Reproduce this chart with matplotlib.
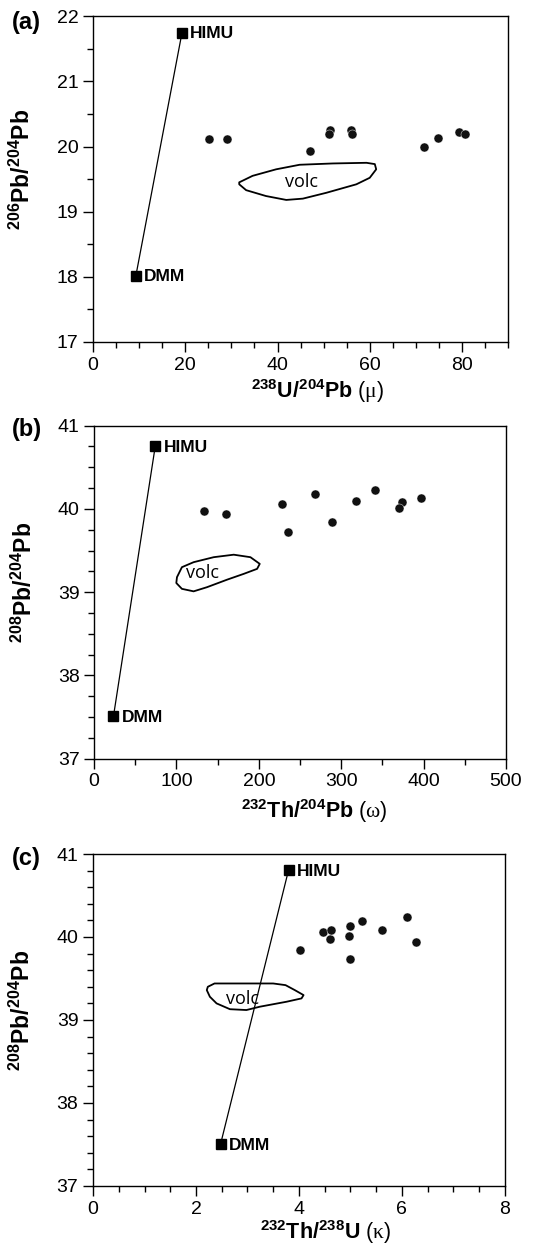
import matplotlib
matplotlib.use("Agg")
import matplotlib.pyplot as plt
from matplotlib.patches import Polygon
from matplotlib.ticker import MultipleLocator
from matplotlib import rcParams

rcParams['font.family'] = 'Liberation Sans'
rcParams['mathtext.fontset'] = 'custom'
rcParams['mathtext.rm'] = 'Liberation Sans'
rcParams['mathtext.bf'] = 'Liberation Sans:bold'
rcParams['mathtext.it'] = 'Liberation Serif'
rcParams['axes.linewidth'] = 1.0

# end-members (DMM, HIMU)
mu_end = [9.3, 19.3]
pb206_end = [18.02, 21.75]
omega_end = [23.5, 74.2]
pb208_end_b = [37.51, 40.75]
kappa_end = [2.48, 3.80]
pb208_end_c = [37.51, 40.81]
end_names = ['DMM', 'HIMU']

# samples
mu = [25.2, 29.1, 47.0, 51.3, 51.1, 55.9, 56.2, 71.8, 74.9, 79.4, 80.7]
pb206 = [20.11, 20.11, 19.93, 20.26, 20.19, 20.26, 20.19, 20.00, 20.13, 20.23, 20.19]

omega = [134, 160.6, 228.3, 235.2, 268, 288.3, 317.5, 341, 374.3, 370.6, 397.4]
pb208_b = [39.98, 39.94, 40.06, 39.72, 40.18, 39.84, 40.10, 40.23, 40.08, 40.01, 40.13]

kappa = [4.03, 4.47, 4.60, 4.63, 4.97, 4.99, 4.99, 5.23, 5.62, 6.09, 6.27]
pb208_c = [39.84, 40.06, 39.98, 40.08, 40.01, 40.13, 39.73, 40.19, 40.08, 40.24, 39.94]

# volcanic field outlines
volc_a_x = [31.7, 34.6, 39.7, 44.8, 52.0, 59.3, 61.1, 61.4, 60.0, 57.1, 50.6, 45.5, 41.9, 37.5, 33.2, 31.7]
volc_a_y = [19.45, 19.55, 19.65, 19.72, 19.74, 19.75, 19.73, 19.65, 19.52, 19.42, 19.29, 19.20, 19.18, 19.24, 19.33, 19.42]
volc_b_x = [100.6, 106.6, 120.8, 145.2, 169.5, 189.8, 201.1, 197.9, 181.7, 161.4, 137.1, 120.8, 106.6, 99.8]
volc_b_y = [39.18, 39.30, 39.36, 39.42, 39.45, 39.42, 39.34, 39.28, 39.22, 39.15, 39.06, 39.01, 39.04, 39.11]
volc_c_x = [2.23, 2.36, 2.72, 3.50, 3.74, 3.92, 4.09, 4.05, 3.76, 3.24, 2.98, 2.66, 2.40, 2.27, 2.21]
volc_c_y = [39.40, 39.44, 39.44, 39.44, 39.42, 39.36, 39.30, 39.26, 39.22, 39.16, 39.12, 39.13, 39.20, 39.28, 39.36]

fig = plt.figure(figsize=(5.44, 12.48), dpi=100)
ax_a = fig.add_axes([0.171, 0.726, 0.763, 0.261])
ax_b = fig.add_axes([0.173, 0.392, 0.757, 0.267])
ax_c = fig.add_axes([0.171, 0.0497, 0.757, 0.266])

panels = [
    (ax_a, mu, pb206, mu_end, pb206_end, volc_a_x, volc_a_y, (45.1, 19.46),
     (0, 90), (17, 22), 20, 5, 1, 0.5,
     r'$\mathbf{^{238}U/^{204}Pb}$ $(\mu)$', r'$\mathbf{^{206}Pb/^{204}Pb}$',
     '(a)', 0.982, (0.54, -0.195)),
    (ax_b, omega, pb208_b, omega_end, pb208_end_b, volc_b_x, volc_b_y, (131, 39.23),
     (0, 500), (37, 41), 100, 50, 1, 0.25,
     r'$\mathbf{^{232}Th/^{204}Pb}$ $(\omega)$', r'$\mathbf{^{208}Pb/^{204}Pb}$',
     '(b)', 0.656, (0.535, -0.2)),
    (ax_c, kappa, pb208_c, kappa_end, pb208_end_c, volc_c_x, volc_c_y, (2.91, 39.25),
     (0, 8), (37, 41), 2, 0.5, 1, 0.2,
     r'$\mathbf{^{232}Th/^{238}U}$ $(\kappa)$', r'$\mathbf{^{208}Pb/^{204}Pb}$',
     '(c)', 0.312, (0.565, -0.18)),
]

for (ax, xs, ys, ex, ey, vx, vy, vtxt, xlim, ylim, xmaj, xmin, ymaj, ymin,
     xlab, ylab, tag, tag_y, xlab_pos) in panels:
    ax.add_patch(Polygon(list(zip(vx, vy)), closed=True, fill=False,
                         edgecolor='black', linewidth=1.3, joinstyle='round'))
    ax.text(vtxt[0], vtxt[1], 'volc', ha='center', va='center',
            fontsize=13, family='Open Sans')
    ax.plot(ex, ey, color='black', linewidth=0.9, zorder=2)
    ax.plot(ex, ey, 's', color='black', markersize=7, zorder=3)
    for x, y, name in zip(ex, ey, end_names):
        ax.annotate(name, (x, y), xytext=(6, -1), textcoords='offset points',
                    ha='left', va='center', fontsize=12.5, fontweight='bold')
    ax.plot(xs, ys, 'o', color='#111111', markersize=6.5,
            markeredgecolor='white', markeredgewidth=0.3, zorder=4)

    ax.set_xlim(*xlim)
    ax.set_ylim(*ylim)
    ax.xaxis.set_major_locator(MultipleLocator(xmaj))
    ax.xaxis.set_minor_locator(MultipleLocator(xmin))
    ax.yaxis.set_major_locator(MultipleLocator(ymaj))
    ax.yaxis.set_minor_locator(MultipleLocator(ymin))
    ax.tick_params(which='major', direction='out', length=7, width=1,
                   labelsize=14, top=False, right=False)
    ax.tick_params(which='minor', direction='out', length=4.5, width=1,
                   top=False, right=False)

    ax.set_xlabel(xlab, fontsize=15.5, fontweight='bold')
    ax.set_ylabel(ylab, fontsize=16.5, fontweight='bold')
    ax.xaxis.label.set_va('bottom')
    ax.xaxis.set_label_coords(*xlab_pos)
    ax.yaxis.set_label_coords(-0.14, 0.53)
    fig.text(0.022, tag_y, tag, fontsize=17, fontweight='bold',
             ha='left', va='center')

fig.savefig('out.png', dpi=100)
